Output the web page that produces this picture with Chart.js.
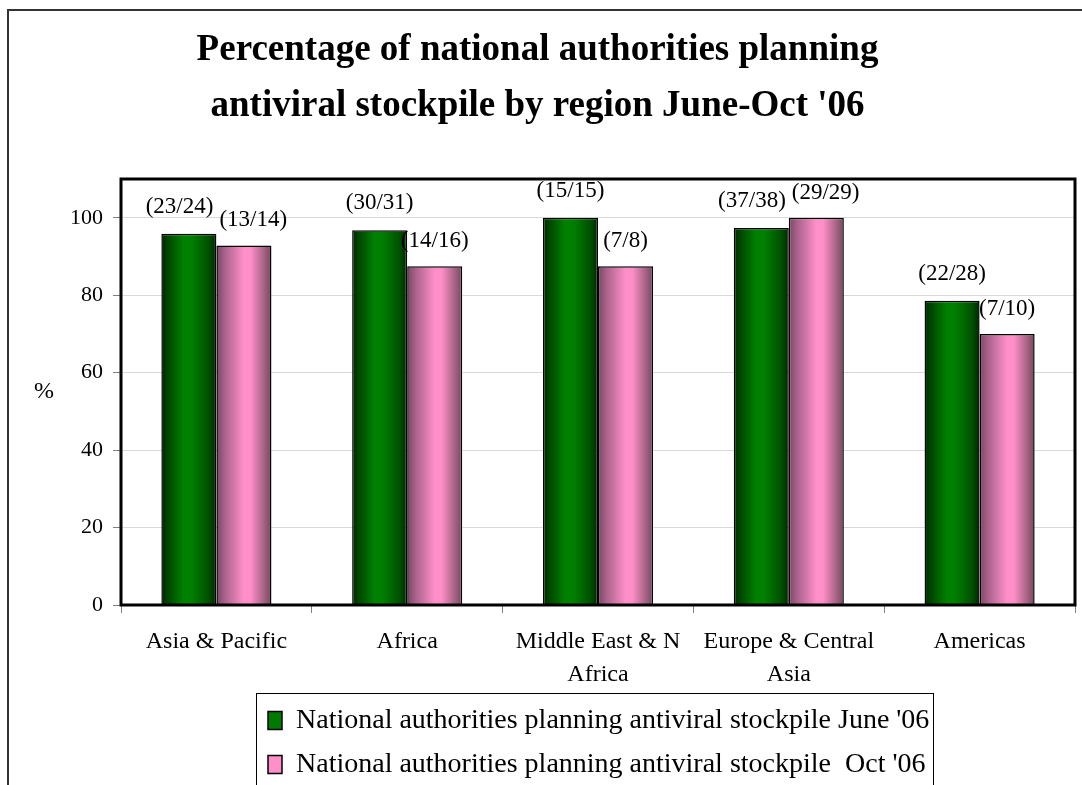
<!doctype html>
<html>
<head>
<meta charset="UTF-8">
<title>Antiviral stockpile planning by region</title>
<script src="https://cdn.jsdelivr.net/npm/chart.js@4.4.1/dist/chart.umd.min.js"></script>
<style>
  html, body { margin: 0; padding: 0; background: #fff; overflow: hidden; }
  #wrap { width: 1082px; height: 830px; }
</style>
</head>
<body>
<div id="wrap"><canvas id="canvas" width="1082" height="830"></canvas></div>
<script>
// regions and counts (planning / responding) for the two survey rounds
var regions = ['Asia & Pacific', 'Africa', ['Middle East & N', 'Africa'], ['Europe & Central', 'Asia'], 'Americas'];
var juneYes = [23, 30, 15, 37, 22];
var juneAll = [24, 31, 15, 38, 28];
var octYes = [13, 14, 7, 29, 7];
var octAll = [14, 16, 8, 29, 10];
var yTicks = [0, 20, 40, 60, 80, 100];
var seriesNames = ["National authorities planning antiviral stockpile June '06",
                   "National authorities planning antiviral stockpile  Oct '06"];

// percentage for each bar = the count shown above it
var junePct = juneYes.map(function (v, i) { return v / juneAll[i] * 100; });
var octPct = octYes.map(function (v, i) { return v / octAll[i] * 100; });

var CAT_PCT = 0.577;
var greenShades = [[0, '#002a00'], [0.15, '#004d00'], [0.4, '#008000'], [0.55, '#008000'], [0.85, '#005200'], [1, '#002800']];
var pinkShades = [[0, '#7a4563'], [0.15, '#a8628a'], [0.5, '#ff8fc9'], [0.62, '#ff8fc9'], [0.88, '#a0607f'], [1, '#7a4563']];

// shaded "cylinder" fill across each bar
function cylinder(c, shades) {
  var chart = c.chart, xs = chart.scales.x;
  if (!xs || c.type !== 'data' || !xs.width) return shades[2][1];
  var cat = xs.width / regions.length;
  var bw = cat * CAT_PCT / 2;
  var left = xs.getPixelForValue(c.dataIndex) - cat * CAT_PCT / 2 + c.datasetIndex * bw;
  var g = chart.ctx.createLinearGradient(left, 0, left + bw, 0);
  shades.forEach(function (s) { g.addColorStop(s[0], s[1]); });
  return g;
}

var frames = {
  id: 'frames',
  beforeDraw: function (chart) {
    var ctx = chart.ctx;
    ctx.save();
    ctx.fillStyle = '#fff';
    ctx.fillRect(0, 0, chart.width, chart.height);
    ctx.strokeStyle = '#333';
    ctx.lineWidth = 2;
    ctx.strokeRect(8, 10, 1200, 1000);
    ctx.restore();
  },
  afterLayout: function (chart) {
    // legend block sits right of centre
    chart.legend.left = 252;
  },
  afterDatasetsDraw: function (chart) {
    var ctx = chart.ctx, a = chart.chartArea;
    ctx.save();
    ctx.strokeStyle = '#000';
    ctx.lineWidth = 3;
    ctx.strokeRect(a.left, a.top, a.right - a.left, a.bottom - a.top);

    // count labels above the bars
    ctx.font = '23px "Liberation Serif", "Times New Roman", serif';
    ctx.fillStyle = '#000';
    ctx.textAlign = 'center';
    ctx.textBaseline = 'middle';
    var m1 = chart.getDatasetMeta(0).data, m2 = chart.getDatasetMeta(1).data;
    for (var i = 0; i < regions.length; i++) {
      var t1 = '(' + juneYes[i] + '/' + juneAll[i] + ')';
      var t2 = '(' + octYes[i] + '/' + octAll[i] + ')';
      var x1 = m1[i].x, y1 = m1[i].y - 27, x2 = m2[i].x, y2 = m2[i].y - 25;
      var w1 = ctx.measureText(t1).width, w2 = ctx.measureText(t2).width;
      var overlap = (x1 + w1 / 2 + 6) - (x2 - w2 / 2);
      if (Math.abs(y1 - y2) < 22 && overlap > 0) {
        x1 -= overlap / 2;
        x2 += overlap / 2;
      }
      ctx.fillText(t1, x1, y1);
      ctx.fillText(t2, x2, y2);
    }
    ctx.restore();
  },
  afterDraw: function (chart) {
    var ctx = chart.ctx, a = chart.chartArea;
    ctx.save();
    ctx.font = '24px "Liberation Serif", "Times New Roman", serif';
    ctx.fillStyle = '#000';
    ctx.textAlign = 'center';
    ctx.textBaseline = 'middle';
    ctx.fillText('%', 44, (a.top + a.bottom) / 2);

    // box round the legend
    var hb = chart.legend.legendHitBoxes;
    var l = Math.min.apply(null, hb.map(function (h) { return h.left; })) - 12;
    var r = Math.max.apply(null, hb.map(function (h) { return h.left + h.width; })) + 4;
    var t = Math.min.apply(null, hb.map(function (h) { return h.top; })) - 14;
    ctx.strokeStyle = '#000';
    ctx.lineWidth = 1;
    ctx.strokeRect(Math.round(l) + 0.5, Math.round(t) + 0.5, Math.round(r - l), 300);
    ctx.restore();
  }
};

Chart.defaults.font.family = '"Liberation Serif", "Times New Roman", serif';
Chart.defaults.color = '#000';

var ctx = document.getElementById('canvas').getContext('2d');
var chart = new Chart(ctx, {
  type: 'bar',
  data: {
    labels: regions,
    datasets: [{
      label: seriesNames[0],
      data: junePct,
      backgroundColor: function (c) { return cylinder(c, greenShades); },
      borderColor: '#000',
      borderWidth: 1.5
    }, {
      label: seriesNames[1],
      data: octPct,
      backgroundColor: function (c) { return cylinder(c, pinkShades); },
      borderColor: '#000',
      borderWidth: 1.5
    }]
  },
  options: {
    responsive: false,
    animation: false,
    devicePixelRatio: 1,
    datasets: { bar: { categoryPercentage: CAT_PCT, barPercentage: 1 } },
    layout: { autoPadding: false, padding: { left: 0, right: 7, top: 0, bottom: 41.5 } },
    plugins: {
      tooltip: { enabled: false },
      title: {
        display: true,
        text: ['Percentage of national authorities planning', "antiviral stockpile by region June-Oct '06"],
        font: { size: 37, weight: 'bold', lineHeight: 1.5 },
        color: '#000',
        padding: { top: 23, bottom: 45 }
      },
      legend: {
        position: 'bottom',
        align: 'start',
        labels: {
          boxWidth: 14,
          boxHeight: 18,
          padding: 16,
          color: '#000',
          font: { size: 28 },
          generateLabels: function () {
            return seriesNames.map(function (name, i) {
              return {
                text: name,
                fillStyle: i === 0 ? '#007a00' : '#ff8fc9',
                strokeStyle: '#000',
                lineWidth: 1.5,
                datasetIndex: i,
                hidden: false
              };
            });
          }
        }
      }
    },
    scales: {
      x: {
        border: { display: false },
        grid: { drawOnChartArea: false, tickLength: 8, tickColor: '#808080', offset: true },
        ticks: { font: { size: 24, lineHeight: 1.375 }, padding: 12, maxRotation: 0, autoSkip: false, color: '#000' },
        afterFit: function (s) { s.height = 85.5; }
      },
      y: {
        min: 0,
        max: 110,
        border: { display: false },
        grid: { color: '#d9d9d9', tickColor: '#808080', tickLength: 8 },
        ticks: { font: { size: 22 }, padding: 10, color: '#000' },
        afterBuildTicks: function (s) { s.ticks = yTicks.map(function (v) { return { value: v }; }); },
        afterFit: function (s) { s.width = 121; }
      }
    }
  },
  plugins: [frames]
});
</script>
</body>
</html>
